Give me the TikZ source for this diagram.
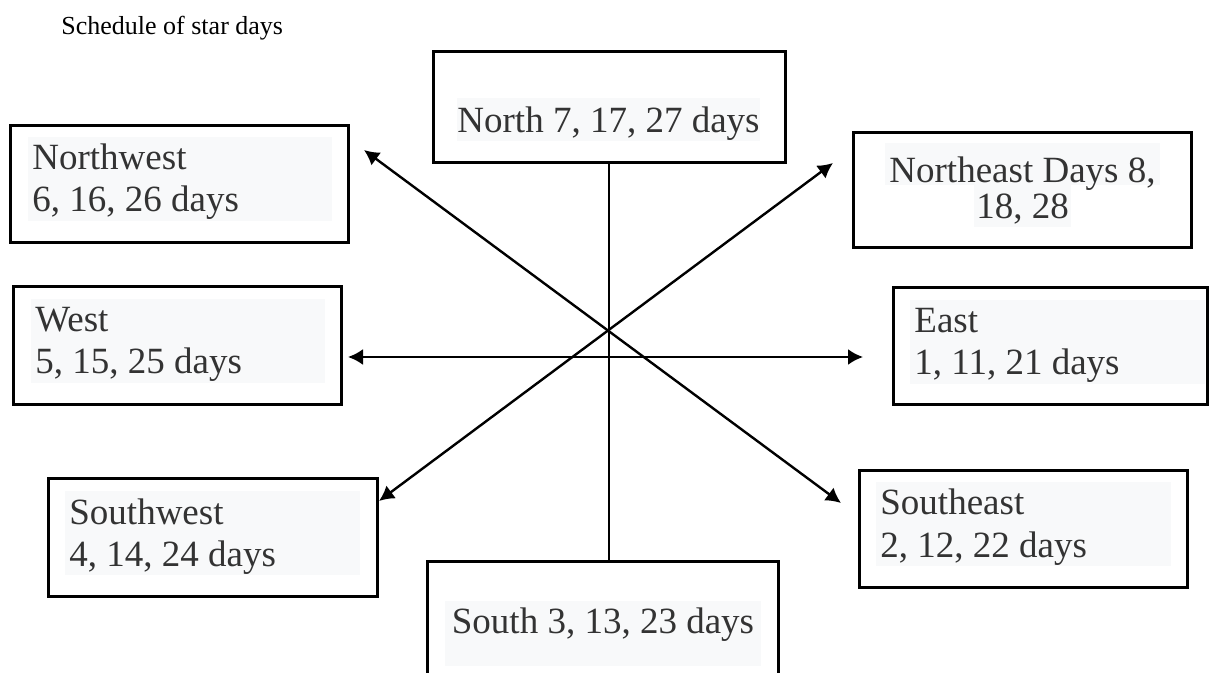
\documentclass[tikz,border=0pt]{standalone}
\usepackage{fontspec}
\setmainfont{Liberation Serif}
\usetikzlibrary{arrows.meta,fit}
\definecolor{SDshade}{HTML}{F8F9FA}
\definecolor{SDtext}{HTML}{333333}
\newcommand\sdboxfont{\fontsize{18.5}{21}\selectfont}
\tikzset{
  sd/box/.style={draw, line width=1.5pt, inner sep=0pt},
  sd/shade/.style={fill=SDshade, text=SDtext, font=\sdboxfont, inner xsep=2pt, inner ysep=0pt,
    align=flush left, text width=143.5pt, text height=16.5pt, text depth=25.5pt, anchor=base west},
  sd/shadeline/.style={fill=SDshade, text=SDtext, font=\sdboxfont, inner xsep=0pt, inner ysep=0pt, anchor=base},
  sd/line/.style={line width=1.2pt},
  sd/arr/.style={sd/line, {Latex[length=7.5pt,width=8pt]}-{Latex[length=7.5pt,width=8pt]}}
}

\begin{document}
\begin{tikzpicture}[x=0.5pt,y=-0.5pt]
\useasboundingbox (0,0) rectangle (1210,673);
\clip (0,0) rectangle (1210,673);
% title
\node[anchor=base west, inner sep=0pt, font=\fontsize{13}{15}\selectfont] (title) at (61,35) {Schedule of star days};

% frames
\node[sd/box, fit={(433,52) (785,163)}] (north) {};
\node[sd/box, fit={(10,126) (348,243)}] (nw) {};
\node[sd/box, fit={(853,133) (1191,248)}] (ne) {};
\node[sd/box, fit={(13,287) (341,405)}] (west) {};
\node[sd/box, fit={(893,288) (1207,405)}] (east) {};
\node[sd/box, fit={(48,479) (377,596)}] (sw) {};
\node[sd/box, fit={(859,471) (1187,587)}] (se) {};
\node[sd/box, fit={(427,561) (778,690)}] (south) {};

% shaded texts
\node[sd/shadeline, text height=17.5pt, text depth=4pt] (northtxt) at (608.5,133) {North 7, 17, 27 days};
\node[sd/shade, text width=148pt] (nwtxt) at (28,170) {Northwest\\6, 16, 26 days};
\node[sd/shadeline, inner xsep=2pt, text height=20pt, text depth=1pt] (ne1txt) at (1022.5,183) {Northeast Days 8,};
\node[sd/shadeline, inner xsep=1pt, text height=17pt, text depth=4pt] (ne2txt) at (1022.5,219) {18, 28};
\node[sd/shade, text width=143pt] (westtxt) at (31,332) {West\\5, 15, 25 days};
\node[sd/shade] (easttxt) at (910,333) {East\\1, 11, 21 days};
\node[sd/shade] (swtxt) at (65,524) {Southwest\\4, 14, 24 days};
\node[sd/shade] (setxt) at (876,515) {Southeast\\2, 12, 22 days};
\node[sd/shadeline, inner xsep=3.5pt, text height=16pt, text depth=16.5pt] (southtxt) at (603,633) {South 3, 13, 23 days};

% arrow ends
\coordinate (wtip) at (348,357);
\coordinate (etip) at (863,357);
\coordinate (nwtip) at (364,150);
\coordinate (setip) at (841,503);
\coordinate (netip) at (833,163);
\coordinate (swtip) at (379,501);

% connectors
\draw[sd/line] (north.south) -- (north.south |- south.north);
\draw[sd/arr] (wtip) -- (etip);
\draw[sd/arr] (nwtip) -- (setip);
\draw[sd/arr] (netip) -- (swtip);
\end{tikzpicture}
\end{document}
